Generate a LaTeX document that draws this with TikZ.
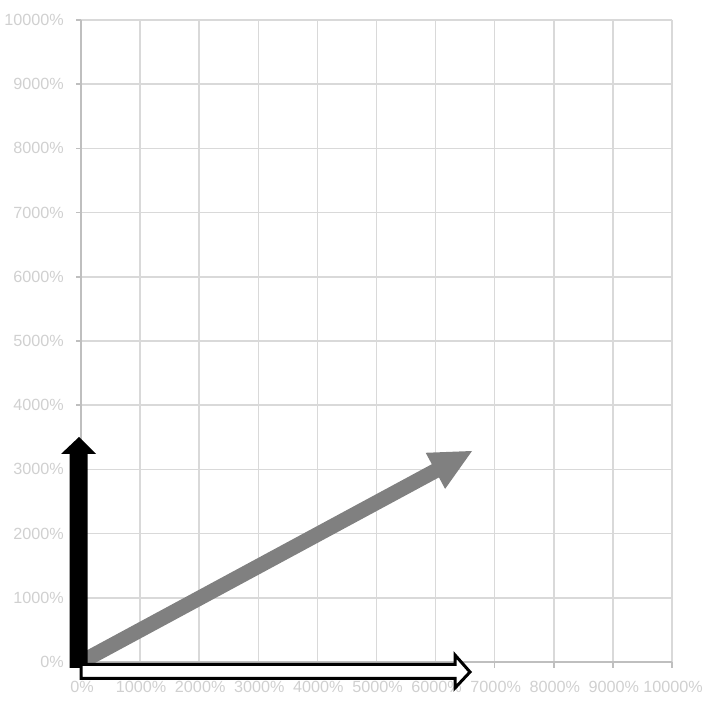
\documentclass[tikz,border=0pt]{standalone}
\usepackage{fontspec}
\setmainfont{Liberation Sans}
\definecolor{gridc}{HTML}{D9D9D9}
\definecolor{axisc}{HTML}{BFBFBF}
\definecolor{labc}{HTML}{D0D0D0}
\definecolor{vecgray}{HTML}{808080}
\begin{document}
\begin{tikzpicture}[x=1pt,y=-1pt,
  gridline/.style={draw=gridc,line width=1.5pt},
  axisline/.style={draw=axisc,line width=1.5pt},
  lab/.style={text=labc,font=\fontsize{16.2}{17}\selectfont,inner sep=0pt}]
\useasboundingbox (0,0) rectangle (716,708);
% grid
\foreach \i in {1,...,10}{
  \draw[gridline] ({81+59.1*\i},20) -- ({81+59.1*\i},662);
  \draw[gridline] (81,{662-64.2*\i}) -- (672,{662-64.2*\i});
}
% axes
\draw[axisline] (81,20) -- (81,662) -- (672,662);
\foreach \i in {0,...,10}{
  \draw[axisline] (76,{662-64.2*\i}) -- (81,{662-64.2*\i});
  \draw[axisline] ({81+59.1*\i},662) -- ({81+59.1*\i},668);
}
% labels
\foreach \i/\t in {0/0\%,1/1000\%,2/2000\%,3/3000\%,4/4000\%,5/5000\%,6/6000\%,7/7000\%,8/8000\%,9/9000\%,10/10000\%}{
  \node[lab,anchor=east] (yl\i) at (64,{662-64.2*\i}) {\t};
  \node[lab,anchor=center] (xl\i) at ({82+59.1*\i},687) {\t};
}
% named coordinates
\coordinate (O) at (81,662);
\coordinate (G) at (472,451);
% gray vector
\fill[vecgray] (77.44,655.4) -- (431.84,464.2) -- (425.7,452.8) -- (G) -- (445.1,488.9) -- (438.96,477.4) -- (84.56,668.6) -- cycle;
% black vector
\fill[black] (69.5,668) -- (69.5,454) -- (61,454) -- (79,437) -- (96,454) -- (87.5,454) -- (87.5,668) -- cycle;
% white vector
\filldraw[fill=white,draw=black,line width=3pt,line join=miter] (81,664.5) -- (455,664.5) -- (455,655) -- (470,672) -- (455,688) -- (455,678.5) -- (81,678.5) -- cycle;
\end{tikzpicture}
\end{document}
